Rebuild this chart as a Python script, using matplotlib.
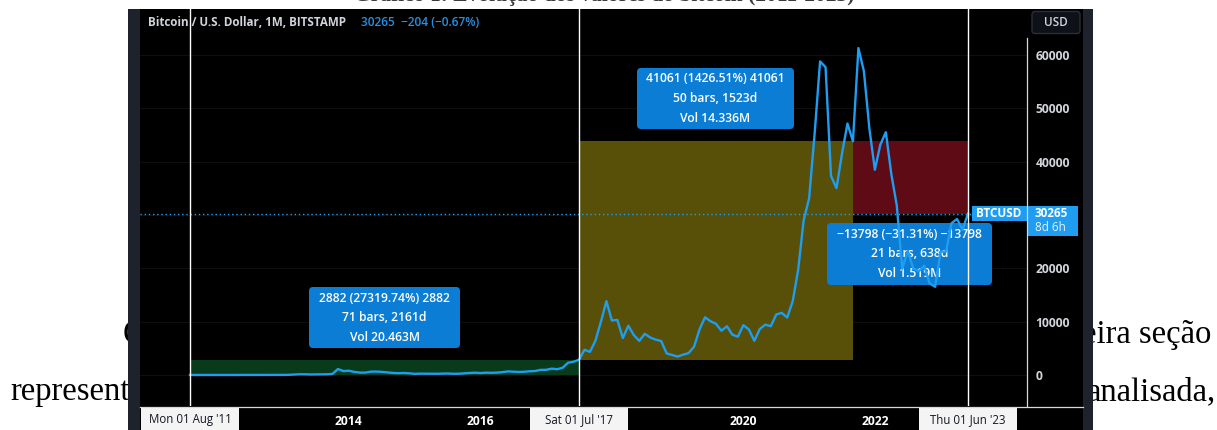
import numpy as np
import matplotlib
matplotlib.use("Agg")
import matplotlib.pyplot as plt
from matplotlib.patches import Rectangle, FancyBboxPatch
from matplotlib.transforms import Affine2D, blended_transform_factory

# ---------------- data (monthly closes, BTC/USD, Bitstamp) ----------------
first_year, first_month = 2011, 8          # Aug 2011 = month index 0
closes_2011 = [8.2, 5.1, 3.2, 3.0, 4.7]
closes_2012 = [5.5, 4.9, 4.9, 5.0, 5.2, 6.7, 9.1, 10.1, 12.4, 11.2, 12.6, 13.5]
closes_2013 = [20.4, 33.4, 93, 139, 129, 97, 106, 135, 133, 198, 1120, 732]
closes_2014 = [805, 573, 458, 447, 628, 640, 586, 478, 387, 338, 378, 320]
closes_2015 = [217, 254, 244, 236, 230, 263, 284, 230, 236, 314, 377, 430]
closes_2016 = [368, 437, 416, 448, 531, 673, 624, 574, 608, 700, 742, 964]
closes_2017 = [970, 1190, 1080, 1348, 2300, 2480, 2875, 4735, 4340, 6450, 10000, 13850]
closes_2018 = [10220, 10330, 6930, 9240, 7490, 6390, 7730, 7030, 6630, 6370, 4040, 3740]
closes_2019 = [3460, 3820, 4100, 5320, 8560, 10820, 10080, 9600, 8300, 9150, 7550, 7190]
closes_2020 = [9350, 8540, 6420, 8620, 9450, 9140, 11350, 11650, 10780, 13800, 19700, 28990]
closes_2021 = [33110, 45160, 58800, 57720, 37300, 35040, 41490, 47150, 43820, 61300, 56950, 46210]
closes_2022 = [38480, 43180, 45530, 37710, 31790, 19920, 23300, 20050, 19420, 20490, 17160, 16540]
closes_2023 = [23130, 23140, 28470, 29250, 27220, 30265]

year_ticks = [2014, 2016, 2020, 2022]
year_labels = ["2014", "2016", "2020", "2022"]
price_ticks = [0, 10000, 20000, 30000, 40000, 50000, 60000]
price_labels = ["0", "10000", "20000", "", "40000", "50000", "60000"]

range_start_month = [0, 71, 121]
range_end_month = [71, 121, 142]
range_low = [10.55, 2878, 30141]
range_high = [2892, 43939, 43939]
range_texts = ["2882 (27319.74%) 2882\n71 bars, 2161d\nVol 20.463M",
               "41061 (1426.51%) 41061\n50 bars, 1523d\nVol 14.336M",
               "\u221213798 (\u221231.31%) \u221213798\n21 bars, 638d\nVol 1.519M"]

crosshair_months = [0, 71, 142]
crosshair_labels = ["Mon 01 Aug '11", "Sat 01 Jul '17", "Thu 01 Jun '23"]

last_price = 30265
last_change = "\u2212204 (\u22120.67%)"
symbol_title = "Bitcoin / U.S. Dollar, 1M, BITSTAMP"

closes = (closes_2011 + closes_2012 + closes_2013 + closes_2014 + closes_2015 +
          closes_2016 + closes_2017 + closes_2018 + closes_2019 + closes_2020 +
          closes_2021 + closes_2022 + closes_2023)
months = np.arange(len(closes))

def month_index(year, month=1):
    return (year - first_year) * 12 + (month - first_month)

# ---------------- styling ----------------
W, H = 1217, 430
UI = ["Open Sans", "DejaVu Sans"]
SERIF = ["Liberation Serif", "DejaVu Serif"]
LINE = "#1e9df1"
BOX = "#0b7dd5"
TXT = "#d1d4dc"
range_colors = ["#073b1b", "#585008", "#5e0b15"]

fig = plt.figure(figsize=(W / 100, H / 100), dpi=100, facecolor="white")
P = Affine2D().scale(1 / W, -1 / H).translate(0, 1) + fig.transFigure

# ---------------- background: document page + panel ----------------
bg = fig.add_axes([0, 0, 1, 1], zorder=-1)
bg.set_xlim(0, W); bg.set_ylim(H, 0); bg.axis("off")
bg.text(604, 1.0, "Gráfico 1: Evolução dos valores do bitcoin (2011-2023)", ha="center",
        va="baseline", fontsize=15.5, fontweight="bold", family=SERIF, color="#3a3a3a", zorder=1)
FS = 23.5
bg.text(123, 343, "O", ha="left", va="baseline", fontsize=FS, family=SERIF, color="black", zorder=1)
bg.text(1211, 343, "eira seção", ha="right", va="baseline", fontsize=FS, family=SERIF,
        color="black", zorder=1)
bg.text(10, 400, "represent", ha="left", va="baseline", fontsize=FS, family=SERIF,
        color="black", zorder=1)
bg.text(1216, 400, "analisada,", ha="right", va="baseline", fontsize=FS, family=SERIF,
        color="black", zorder=1)
bg.add_patch(Rectangle((128, 9), 965, 430, facecolor="#1e222d", edgecolor="none", zorder=2))
bg.add_patch(Rectangle((140, 9), 943, 430, facecolor="black", edgecolor="none", zorder=3))

# ---------------- main chart ----------------
ax = fig.add_axes([140 / W, (H - 406) / H, 887 / W, 397 / H], zorder=1)
ax.set_facecolor("black")
ax.set_xlim(-9.13, 152.77)
ax.set_ylim(-5812, 68625)
for s in ax.spines.values():
    s.set_visible(False)

ax.yaxis.tick_right()
ax.set_yticks(price_ticks)
ax.set_yticklabels(price_labels)
ax.tick_params(axis="y", length=0, pad=6, labelsize=8.7, labelcolor=TXT)
ax.set_xticks([month_index(y) for y in year_ticks])
ax.set_xticklabels(year_labels)
ax.tick_params(axis="x", length=0, pad=6.5, labelsize=8.7, labelcolor="white")
for lab in ax.get_yticklabels() + ax.get_xticklabels():
    lab.set_family(UI); lab.set_fontweight("bold")
ax.grid(axis="y", color="white", alpha=0.06, lw=0.8)
ax.set_axisbelow(True)

for m0, m1, lo, hi, c in zip(range_start_month, range_end_month, range_low, range_high, range_colors):
    ax.add_patch(Rectangle((m0, lo), m1 - m0, hi - lo, facecolor=c, edgecolor="none", zorder=1))

ax.axhline(last_price, color=LINE, lw=1, ls=(0, (1, 2)), zorder=2)
ax.plot(months, closes, color=LINE, lw=1.7, zorder=3, solid_joinstyle="round")
for m in crosshair_months:
    ax.axvline(m, color="white", lw=1, zorder=4)

# measurement labels (pixel positions)
label_boxes = [(309, 287, 151, 61, 5), (637, 68, 157, 61, 5), (827, 223, 165, 62, 2.5)]
for (x0, y0, w, h, z), t in zip(label_boxes, range_texts):
    ax.add_patch(FancyBboxPatch((x0, y0), w, h, boxstyle="round,pad=0,rounding_size=4",
                                transform=P, facecolor=BOX, edgecolor="none", zorder=z, clip_on=False))
    for k, line in enumerate(t.split("\n")):
        ax.text(x0 + w / 2, y0 + 11 + 19.8 * k, line, transform=P, ha="center", va="center",
                fontsize=8.7, color="white", family=UI, fontweight="semibold", zorder=z + 0.1,
                clip_on=False)

# ---------------- overlay chrome ----------------
ov = fig.add_axes([0, 0, 1, 1], zorder=3)
ov.set_xlim(0, W); ov.set_ylim(H, 0); ov.axis("off"); ov.patch.set_alpha(0)

ov.plot([1027, 1027], [38, 406], color="#d8d8d8", lw=0.9)
ov.plot([140, 1083], [406.5, 406.5], color="#d8d8d8", lw=0.9)

ov.text(148, 22, symbol_title, ha="left", va="center", fontsize=8.4, color=TXT,
        family=UI, fontweight="bold")
ov.text(361, 22, f"{last_price}  {last_change}", ha="left", va="center", fontsize=8.6,
        color="#2a8fe0", family=UI, fontweight="semibold")

ov.add_patch(FancyBboxPatch((1032, 11.5), 48, 22, boxstyle="round,pad=0,rounding_size=3",
                            facecolor="#0e1118", edgecolor="#2a2e39", lw=1))
ov.text(1056, 22.5, "USD", ha="center", va="center", fontsize=8.5, color=TXT, family=UI,
        fontweight="semibold")

ov.add_patch(Rectangle((972, 205.5), 55, 15.5, facecolor=LINE, edgecolor="none"))
ov.text(976, 213.3, "BTCUSD", ha="left", va="center", fontsize=8.5, color="white", family=UI,
        fontweight="bold")
ov.add_patch(Rectangle((1027, 205.5), 51, 30.5, facecolor=LINE, edgecolor="none"))
ov.text(1035, 213.3, f"{last_price}", ha="left", va="center", fontsize=8.5, color="white",
        family=UI, fontweight="bold")
ov.text(1035, 227.5, "8d 6h", ha="left", va="center", fontsize=8.5, color="#e6f2ff",
        family=UI)

tb = blended_transform_factory(ax.transData, ov.transData)
half_w = 49 / (887 / (152.77 + 9.13))
for m, lab in zip(crosshair_months, crosshair_labels):
    ov.add_patch(Rectangle((m - half_w, 407.5), 2 * half_w, 23, transform=tb,
                           facecolor="#f4f4f4", edgecolor="none"))
    ov.text(m, 419.5, lab, transform=tb, ha="center", va="center", fontsize=8.3,
            color="#131722", family=UI)

fig.savefig("out.png", dpi=100, facecolor="white")
